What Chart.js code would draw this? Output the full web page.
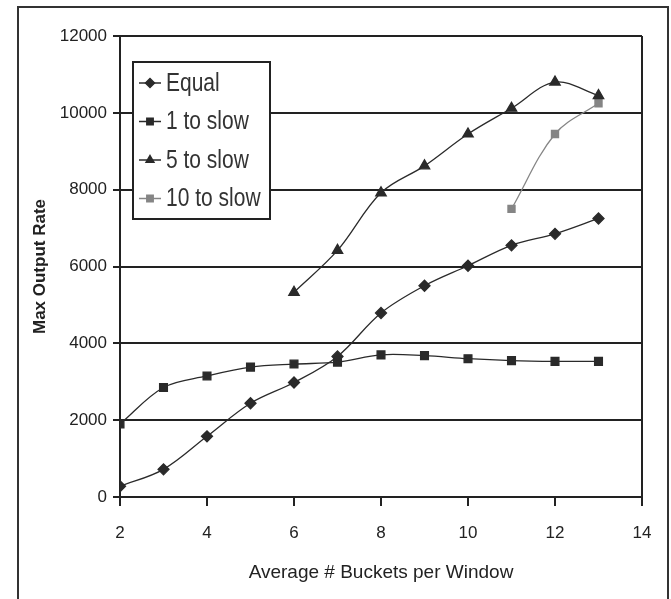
<!DOCTYPE html>
<html>
<head>
<meta charset="utf-8">
<script src="https://cdn.jsdelivr.net/npm/chart.js@4"></script>
<style>
  html, body { margin: 0; padding: 0; background: #fff; }
  #wrap { width: 671px; height: 599px; }
</style>
</head>
<body>
<div id="wrap"><canvas id="rateChart" width="671" height="599"></canvas></div>
<script>
// values
const buckets = [2, 3, 4, 5, 6, 7, 8, 9, 10, 11, 12, 13];
const equalRate = [280, 720, 1580, 2440, 2980, 3660, 4790, 5500, 6020, 6550, 6850, 7250];
const oneSlow = [1900, 2850, 3150, 3380, 3460, 3510, 3700, 3680, 3600, 3550, 3530, 3530];
const fiveSlowX = [6, 7, 8, 9, 10, 11, 12, 13];
const fiveSlow = [5330, 6420, 7920, 8620, 9450, 10120, 10800, 10450];
const tenSlowX = [11, 12, 13];
const tenSlow = [7500, 9450, 10250];
const xTicks = [2, 4, 6, 8, 10, 12, 14];

const FONT = "'Liberation Sans', Arial, sans-serif";

const toPts = (xs, ys) => xs.map((x, i) => ({ x: x, y: ys[i] }));

// legend in a box inside the plot, like the original
const boxLegend = {
    id: 'boxLegend',
    afterDraw(chart) {
        const c = chart.ctx;
        const x0 = 133, y0 = 62, w = 137, h = 157;
        c.save();
        c.fillStyle = '#fff';
        c.fillRect(x0, y0, w, h);
        c.strokeStyle = '#222';
        c.lineWidth = 2;
        c.strokeRect(x0, y0, w, h);
        c.textBaseline = 'middle';
        chart.data.datasets.forEach((ds, i) => {
            const cy = y0 + 21 + i * 38.5;
            c.strokeStyle = ds.borderColor;
            c.fillStyle = ds.borderColor;
            c.lineWidth = 1.5;
            c.beginPath();
            c.moveTo(x0 + 6, cy);
            c.lineTo(x0 + 28, cy);
            c.stroke();
            Chart.helpers.drawPoint(c, {
                pointStyle: ds.pointStyle, radius: 4.5, borderWidth: 1
            }, x0 + 17, cy);
            // narrow lettering, as in the original
            c.save();
            c.translate(x0 + 33, cy + 1);
            c.scale(0.84, 1);
            c.font = '25px ' + FONT;
            c.fillStyle = '#333';
            c.fillText(ds.label, 0, 0);
            c.restore();
        });
        c.restore();
    }
};

const frame = {
    id: 'frame',
    beforeDraw(chart) {
        const c = chart.ctx;
        c.save();
        c.fillStyle = '#fff';
        c.fillRect(0, 0, chart.width, chart.height);
        c.strokeStyle = '#333';
        c.lineWidth = 2;
        c.beginPath();
        c.moveTo(18, 599);
        c.lineTo(18, 7);
        c.lineTo(668, 7);
        c.lineTo(668, 599);
        c.stroke();
        c.restore();
    }
};

function series(label, data, style, color, radius) {
    return {
        label: label,
        data: data,
        borderColor: color,
        backgroundColor: color,
        pointBorderColor: color,
        pointBackgroundColor: color,
        pointStyle: style,
        pointRadius: radius,
        pointHoverRadius: radius,
        borderWidth: 1.3,
        tension: 0.35,
        fill: false
    };
}

new Chart(document.getElementById('rateChart').getContext('2d'), {
    type: 'line',
    data: {
        datasets: [
            series('Equal', toPts(buckets, equalRate), 'rectRot', '#2a2a2a', 5.5),
            series('1 to slow', toPts(buckets, oneSlow), 'rect', '#2a2a2a', 5.5),
            series('5 to slow', toPts(fiveSlowX, fiveSlow), 'triangle', '#2a2a2a', 6),
            series('10 to slow', toPts(tenSlowX, tenSlow), 'rect', '#858585', 5)
        ]
    },
    options: {
        responsive: false,
        animation: false,
        layout: { padding: { left: 0, top: 36, right: 29, bottom: 0 } },
        plugins: {
            legend: { display: false },
            title: { display: false },
            tooltip: { enabled: false }
        },
        scales: {
            x: {
                type: 'linear',
                min: 2,
                max: 14,
                afterBuildTicks: axis => { axis.ticks = xTicks.map(v => ({ value: v })); },
                afterFit: axis => { axis.height = 102; },
                grid: {
                    color: ctx => (ctx.tick && ctx.tick.value === 14) ? '#222' : 'rgba(0,0,0,0)',
                    tickColor: '#222',
                    lineWidth: 2,
                    tickLength: 9
                },
                border: { display: true, color: '#222', width: 2 },
                ticks: {
                    color: '#222',
                    font: { family: FONT, size: 17 },
                    padding: 17,
                    maxRotation: 0
                },
                title: {
                    display: true,
                    text: 'Average # Buckets per Window',
                    color: '#222',
                    font: { family: FONT, size: 19 },
                    padding: { top: 4, bottom: 15 }
                }
            },
            y: {
                min: 0,
                max: 12000,
                afterFit: axis => { axis.width = 120; },
                grid: {
                    color: '#222',
                    tickColor: '#222',
                    lineWidth: 2,
                    tickLength: 7
                },
                border: { display: true, color: '#222', width: 2 },
                ticks: {
                    stepSize: 2000,
                    color: '#222',
                    font: { family: FONT, size: 17 },
                    padding: 6,
                    callback: v => String(v)
                },
                title: {
                    display: true,
                    text: 'Max Output Rate',
                    color: '#222',
                    font: { family: FONT, size: 17, weight: 'bold' },
                    padding: { top: 30, bottom: 0 }
                }
            }
        }
    },
    plugins: [frame, boxLegend]
});
</script>
</body>
</html>
